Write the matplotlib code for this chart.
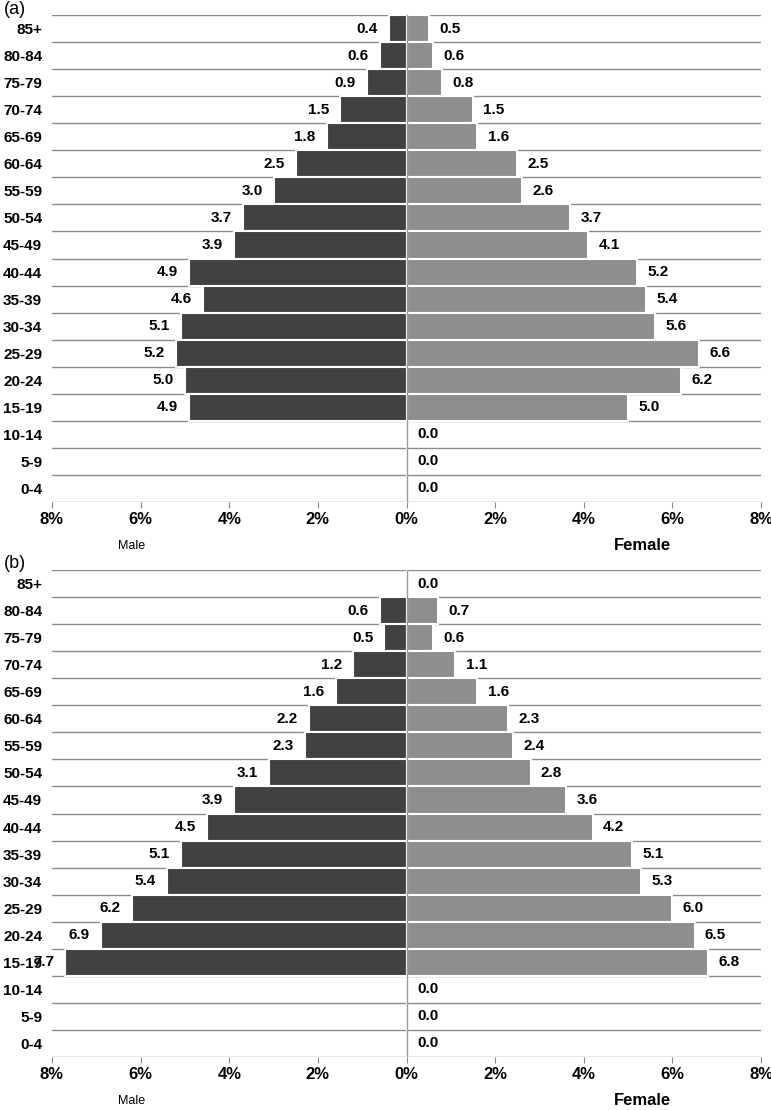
import matplotlib
matplotlib.use("Agg")
import matplotlib.pyplot as plt
from matplotlib import font_manager
import numpy as np

# pick a condensed bold font if one is there
names = {f.name for f in font_manager.fontManager.ttflist}
cond = "Liberation Sans Narrow" if "Liberation Sans Narrow" in names else "Liberation Sans"

ages = ["85+", "80-84", "75-79", "70-74", "65-69", "60-64", "55-59", "50-54",
        "45-49", "40-44", "35-39", "30-34", "25-29", "20-24", "15-19",
        "10-14", "5-9", "0-4"]

male_a = [0.4, 0.6, 0.9, 1.5, 1.8, 2.5, 3.0, 3.7, 3.9, 4.9, 4.6, 5.1, 5.2, 5.0, 4.9, 0.0, 0.0, 0.0]
female_a = [0.5, 0.6, 0.8, 1.5, 1.6, 2.5, 2.6, 3.7, 4.1, 5.2, 5.4, 5.6, 6.6, 6.2, 5.0, 0.0, 0.0, 0.0]

male_b = [0.0, 0.6, 0.5, 1.2, 1.6, 2.2, 2.3, 3.1, 3.9, 4.5, 5.1, 5.4, 6.2, 6.9, 7.7, 0.0, 0.0, 0.0]
female_b = [0.0, 0.7, 0.6, 1.1, 1.6, 2.3, 2.4, 2.8, 3.6, 4.2, 5.1, 5.3, 6.0, 6.5, 6.8, 0.0, 0.0, 0.0]

xticks = [-8, -6, -4, -2, 0, 2, 4, 6, 8]
xticklabels = ["8%", "6%", "4%", "2%", "0%", "2%", "4%", "6%", "8%"]

W, H = 771, 1110
fig = plt.figure(figsize=(W / 100, H / 100), dpi=100)


def pyramid(top, male, female, tag):
    ax = fig.add_axes([52 / W, (H - top - 487) / H, 709 / W, 487 / H])
    y = np.arange(len(ages))
    m = -np.array(male)
    f = np.array(female)
    ax.barh(y, m, height=1.0, color="#414141", edgecolor="white", linewidth=1.5, zorder=2)
    ax.barh(y, f, height=1.0, color="#8e8e8e", edgecolor="white", linewidth=1.5, zorder=2)

    # row separators
    for b in np.arange(len(ages) + 1) - 0.5:
        ax.axhline(b, color="#8a8a8a", lw=1, zorder=1)
    ax.axvline(0, color="#9a9a9a", lw=1, zorder=3)

    for i in range(len(ages)):
        if male[i] > 0:
            ax.annotate(f"{male[i]:.1f}", (m[i], y[i]), xytext=(-8, 0),
                        textcoords="offset points", ha="right", va="center",
                        fontsize=11, fontweight="bold", family=cond,
                        zorder=4, annotation_clip=False)
        ax.annotate(f"{female[i]:.1f}", (f[i], y[i]), xytext=(7.5, 0),
                    textcoords="offset points", ha="left", va="center",
                    fontsize=11, fontweight="bold", family=cond, zorder=4)

    ax.set_xlim(-8, 8)
    ax.set_ylim(len(ages) - 0.5, -0.5)
    ax.set_yticks(y)
    ax.set_yticklabels(ages, fontsize=11, fontweight="bold", family=cond)
    ax.tick_params(axis="y", length=0, pad=7)
    ax.set_xticks(xticks)
    ax.set_xticklabels(xticklabels, fontsize=12, fontweight="bold", family=cond)
    ax.tick_params(axis="x", length=4, color="#8a8a8a", pad=3)
    for s in ax.spines.values():
        s.set_visible(False)

    ax.text(-6.2, len(ages) + 1.12, "Male", ha="center", va="center",
            fontsize=9, family=cond, clip_on=False)
    ax.text(5.33, len(ages) + 1.12, "Female", ha="center", va="center",
            fontsize=12, fontweight="bold", family=cond, clip_on=False)
    fig.text(4 / W, 1 - (top - 6) / H, tag, ha="left", va="center",
             fontsize=13, family="Liberation Sans")
    return ax


pyramid(15, male_a, female_a, "(a)")
pyramid(570, male_b, female_b, "(b)")

fig.savefig("out.png", dpi=100)
